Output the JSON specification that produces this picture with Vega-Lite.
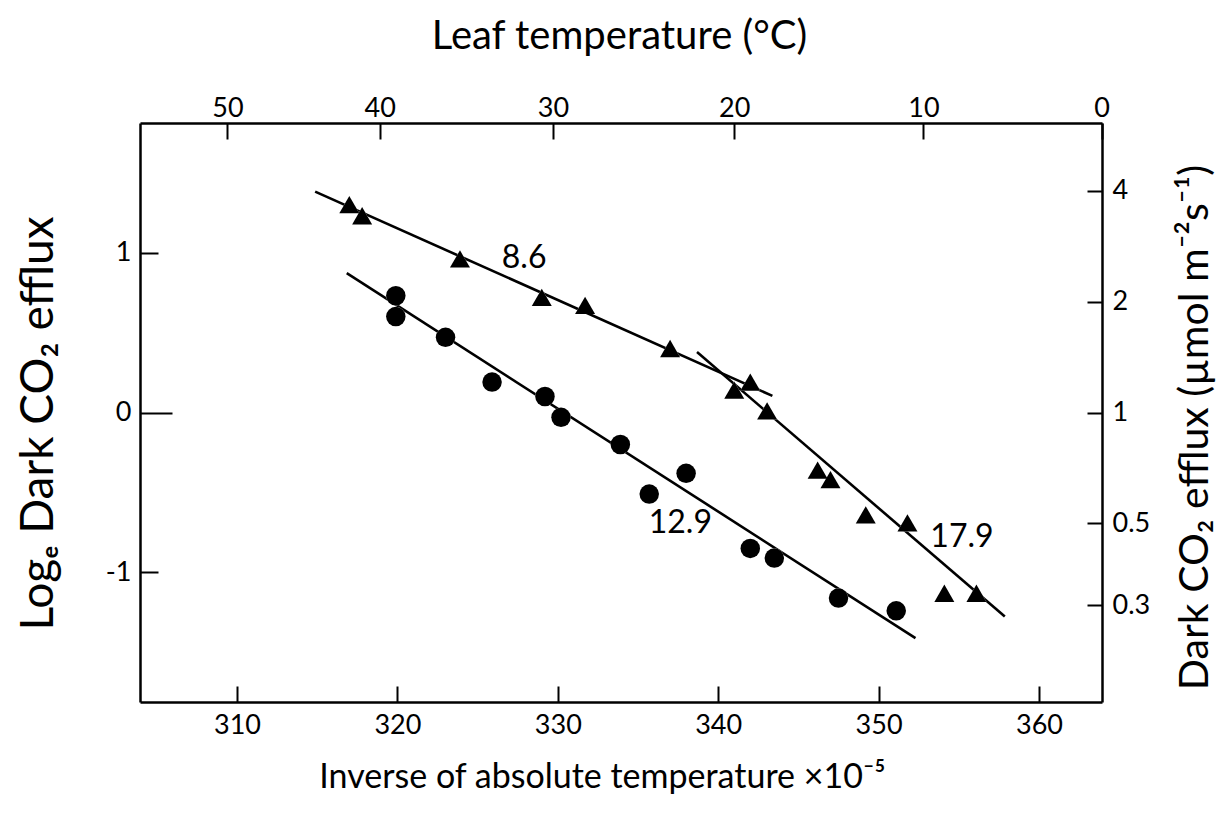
{
  "$schema": "https://vega.github.io/schema/vega-lite/v6.json",
  "autosize": "none",
  "width": 962,
  "height": 579,
  "padding": {"left": 140, "top": 123, "right": 125, "bottom": 111},
  "background": "white",
  "config": {"view": {"stroke": null}, "font": "Lato"},
  "datasets": {
    "pts": [
      {"x": 317.0, "y": 1.30, "s": "tri"},
      {"x": 317.8, "y": 1.23, "s": "tri"},
      {"x": 323.9, "y": 0.96, "s": "tri"},
      {"x": 329.0, "y": 0.72, "s": "tri"},
      {"x": 331.7, "y": 0.67, "s": "tri"},
      {"x": 337.0, "y": 0.40, "s": "tri"},
      {"x": 341.0, "y": 0.14, "s": "tri"},
      {"x": 342.0, "y": 0.19, "s": "tri"},
      {"x": 343.05, "y": 0.01, "s": "tri"},
      {"x": 346.2, "y": -0.36, "s": "tri"},
      {"x": 347.0, "y": -0.42, "s": "tri"},
      {"x": 349.2, "y": -0.64, "s": "tri"},
      {"x": 351.8, "y": -0.69, "s": "tri"},
      {"x": 354.1, "y": -1.13, "s": "tri"},
      {"x": 356.1, "y": -1.13, "s": "tri"},
      {"x": 319.9, "y": 0.73, "s": "circ"},
      {"x": 319.9, "y": 0.60, "s": "circ"},
      {"x": 323.0, "y": 0.47, "s": "circ"},
      {"x": 325.9, "y": 0.19, "s": "circ"},
      {"x": 329.2, "y": 0.10, "s": "circ"},
      {"x": 330.2, "y": -0.03, "s": "circ"},
      {"x": 333.9, "y": -0.20, "s": "circ"},
      {"x": 338.0, "y": -0.38, "s": "circ"},
      {"x": 335.7, "y": -0.51, "s": "circ"},
      {"x": 342.0, "y": -0.85, "s": "circ"},
      {"x": 343.5, "y": -0.91, "s": "circ"},
      {"x": 347.5, "y": -1.16, "s": "circ"},
      {"x": 351.1, "y": -1.24, "s": "circ"}
    ],
    "fits": [
      {"fit": "8.6", "x": 314.87, "y": 1.381},
      {"fit": "8.6", "x": 343.38, "y": 0.104},
      {"fit": "17.9", "x": 338.68, "y": 0.378},
      {"fit": "17.9", "x": 357.87, "y": -1.276},
      {"fit": "12.9", "x": 316.84, "y": 0.871},
      {"fit": "12.9", "x": 352.3, "y": -1.411}
    ],
    "labels": [
      {"x": 327.9, "y": 0.964, "t": "8.6"},
      {"x": 337.64, "y": -0.692, "t": "12.9"},
      {"x": 355.2, "y": -0.779, "t": "17.9"}
    ]
  },
  "layer": [
    {
      "data": {"name": "fits"},
      "mark": {"type": "line", "color": "black", "strokeWidth": 2.6},
      "encoding": {
        "detail": {"field": "fit"},
        "x": {
          "field": "x", "type": "quantitative",
          "scale": {"domain": [303.95, 363.93], "nice": false, "zero": false},
          "axis": {
            "orient": "bottom", "values": [310, 320, 330, 340, 350, 360],
            "grid": false, "tickSize": -16, "tickWidth": 2, "tickColor": "black",
            "domainColor": "black", "domainWidth": 2.5,
            "labelPadding": 26, "labelFontSize": 27, "labelFont": "Lato", "labelColor": "black",
            "labelFlush": false, "labelOverlap": false,
            "title": "Inverse of absolute temperature ×10⁻⁵",
            "titleFont": "Lato", "titleFontSize": 34, "titleFontWeight": "normal", "titleColor": "black",
            "titleX": 462, "titleY": 75, "titleBaseline": "middle", "titleAlign": "center"
          }
        },
        "y": {
          "field": "y", "type": "quantitative",
          "scale": {"domain": [-1.81, 1.81], "nice": false, "zero": false},
          "axis": {
            "orient": "left", "values": [-1, 0, 1],
            "labelExpr": "datum.value < 0 ? '-1' : (datum.value > 0 ? '1' : '0')",
            "grid": false,
            "tickSize": {"condition": {"test": "datum.value == 0", "value": -32}, "value": -18},
            "labelPadding": {"condition": {"test": "datum.value == 0", "value": 41}, "value": 27},
            "tickWidth": 2, "tickColor": "black",
            "domainColor": "black", "domainWidth": 2.5,
            "labelFontSize": 27, "labelFont": "Lato", "labelColor": "black",
            "labelFlush": false, "labelOverlap": false,
            "title": "Logₑ  Dark  CO₂ efflux",
            "titleFont": "Lato", "titleFontSize": 46, "titleFontWeight": "normal", "titleColor": "black",
            "titleAngle": 270, "titleX": -102, "titleY": 300, "titleBaseline": "middle", "titleAlign": "center"
          }
        }
      }
    },
    {
      "data": {"name": "pts"},
      "mark": {"type": "point", "filled": true, "color": "white", "opacity": 1},
      "encoding": {
        "x": {"field": "x", "type": "quantitative", "scale": {"domain": [303.95, 363.93], "nice": false, "zero": false}, "axis": null},
        "y": {"field": "y", "type": "quantitative", "scale": {"domain": [-1.81, 1.81], "nice": false, "zero": false}, "axis": null},
        "shape": {"field": "s", "type": "nominal", "scale": {"domain": ["tri", "circ"], "range": ["triangle-up", "circle"]}, "legend": null},
        "size": {"field": "s", "type": "ordinal", "scale": {"domain": ["tri", "circ"], "range": [400, 380]}, "legend": null}
      }
    },
    {
      "data": {"name": "pts"},
      "mark": {"type": "point", "filled": true, "color": "black", "opacity": 1},
      "encoding": {
        "x": {"field": "x", "type": "quantitative", "scale": {"domain": [303.95, 363.93], "nice": false, "zero": false}, "axis": null},
        "y": {"field": "y", "type": "quantitative", "scale": {"domain": [-1.81, 1.81], "nice": false, "zero": false}, "axis": null},
        "shape": {"field": "s", "type": "nominal", "scale": {"domain": ["tri", "circ"], "range": ["triangle-up", "circle"]}, "legend": null},
        "size": {"field": "s", "type": "ordinal", "scale": {"domain": ["tri", "circ"], "range": [150, 140]}, "legend": null}
      }
    },
    {
      "data": {"name": "labels"},
      "mark": {"type": "text", "font": "Lato", "fontSize": 32, "color": "black", "align": "center", "baseline": "middle"},
      "encoding": {
        "x": {"field": "x", "type": "quantitative", "scale": {"domain": [303.95, 363.93], "nice": false, "zero": false}, "axis": null},
        "y": {"field": "y", "type": "quantitative", "scale": {"domain": [-1.81, 1.81], "nice": false, "zero": false}, "axis": null},
        "text": {"field": "t"}
      }
    },
    {
      "data": {"name": "labels"},
      "mark": {"type": "point", "opacity": 0},
      "encoding": {
        "x": {
          "field": "x", "type": "quantitative",
          "scale": {"domain": [303.95, 363.93], "nice": false, "zero": false},
          "axis": {
            "orient": "top", "values": [309.4, 318.9, 329.7, 341.0, 352.8, 363.9],
            "labelExpr": "datum.value < 314 ? '50' : datum.value < 324 ? '40' : datum.value < 335 ? '30' : datum.value < 346 ? '20' : datum.value < 358 ? '10' : '0'",
            "grid": false, "tickSize": -16, "tickWidth": 2, "tickColor": "black",
            "domainColor": "black", "domainWidth": 2.5,
            "labelPadding": 17, "labelFontSize": 27, "labelFont": "Lato", "labelColor": "black",
            "labelFlush": false, "labelOverlap": false,
            "title": "Leaf temperature (°C)",
            "titleFont": "Lato", "titleFontSize": 40, "titleFontWeight": "normal", "titleColor": "black",
            "titleX": 479, "titleY": -87, "titleBaseline": "middle", "titleAlign": "center"
          }
        },
        "y": {
          "field": "y", "type": "quantitative",
          "scale": {"domain": [-1.81, 1.81], "nice": false, "zero": false},
          "axis": {
            "orient": "right", "values": [1.3863, 0.6931, 0, -0.6931, -1.204],
            "labelExpr": "format(exp(datum.value), '.1~f')",
            "grid": false, "tickSize": -15, "tickWidth": 2, "tickColor": "black",
            "domainColor": "black", "domainWidth": 2.5,
            "labelPadding": 25, "labelFontSize": 27, "labelFont": "Lato", "labelColor": "black",
            "labelFlush": false, "labelOverlap": false,
            "title": "Dark  CO₂ efflux  (µmol m⁻²s⁻¹)",
            "titleFont": "Lato", "titleFontSize": 41, "titleFontWeight": "normal", "titleColor": "black",
            "titleAngle": 270, "titleX": 93, "titleY": 304, "titleBaseline": "middle", "titleAlign": "center"
          }
        }
      }
    }
  ],
  "resolve": {"axis": {"x": "independent", "y": "independent"}}
}
